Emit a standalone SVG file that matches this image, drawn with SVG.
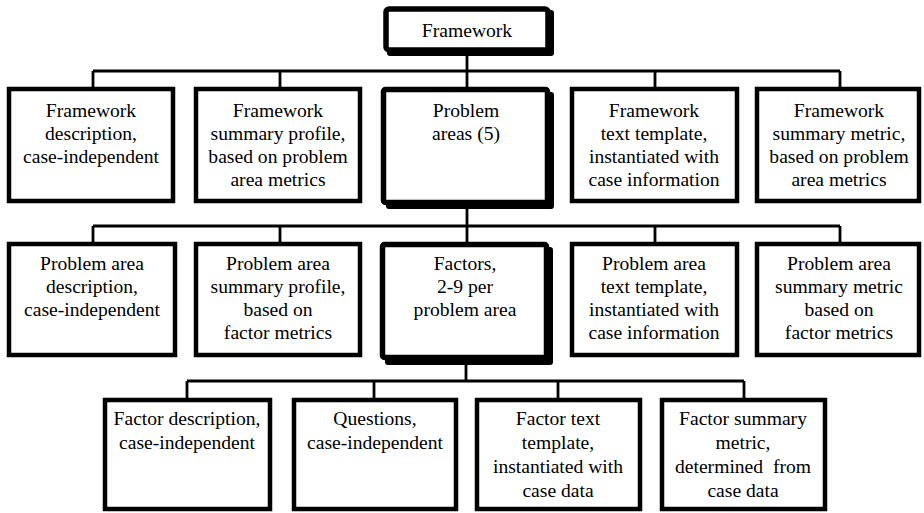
<svg xmlns="http://www.w3.org/2000/svg" width="924" height="513" viewBox="0 0 924 513">
<style>
.bx{fill:#fff;stroke:#000;stroke-width:4.5}
.tk{fill:#fff;stroke:#000;stroke-width:5.5}
.sh{fill:#000}
.ln{stroke:#000;stroke-width:2.8;fill:none}
text{font-family:'Liberation Serif',Tinos,'Times New Roman','DejaVu Serif',serif;font-size:19.6px;fill:#000;text-anchor:middle;white-space:pre}
</style>
<rect width="924" height="513" fill="#fff"/>
<g id="connectors">
<path class="ln" d="M467 56V87M93 71H840M93 71V87M280 71V87M655 71V87M840 71V87"/>
<path class="ln" d="M467 209V242M93 226H840M93 226V242M280 226V242M655 226V242M840 226V242"/>
<path class="ln" d="M466 365V381M187 381H744M187 381V398M374 381V398M558 381V398M744 381V398"/>
</g>
<g id="framework">
<rect class="sh" x="387" y="10" width="167" height="46" rx="3"/>
<rect class="tk" x="386" y="9" width="162" height="41" rx="3"/>
<text x="467" y="37">Framework</text>
</g>
<g id="fw-desc">
<rect class="bx" x="9" y="89" width="164" height="112"/>
<text x="91" y="117">Framework</text><text x="91" y="140">description,</text><text x="91" y="163">case-independent</text>
</g>
<g id="fw-profile">
<rect class="bx" x="196" y="89" width="164" height="112"/>
<text x="278" y="117">Framework</text><text x="278" y="140">summary profile,</text><text x="278" y="163">based on problem</text><text x="278" y="186">area metrics</text>
</g>
<g id="problem-areas">
<rect class="sh" x="386" y="92" width="168" height="117" rx="3"/>
<rect class="tk" x="383.5" y="89.5" width="164" height="113" rx="2"/>
<text x="466" y="117">Problem</text><text x="466" y="140">areas (5)</text>
</g>
<g id="fw-template">
<rect class="bx" x="572" y="89" width="165" height="112"/>
<text x="654" y="117">Framework</text><text x="654" y="140">text template,</text><text x="654" y="163">instantiated with</text><text x="654" y="186">case information</text>
</g>
<g id="fw-metric">
<rect class="bx" x="757" y="89" width="162" height="112"/>
<text x="839" y="117">Framework</text><text x="839" y="140">summary metric,</text><text x="839" y="163">based on problem</text><text x="839" y="186">area metrics</text>
</g>
<g id="pa-desc">
<rect class="bx" x="9" y="244" width="166" height="111"/>
<text x="92" y="270">Problem area</text><text x="92" y="293">description,</text><text x="92" y="316">case-independent</text>
</g>
<g id="pa-profile">
<rect class="bx" x="196" y="244" width="164" height="111"/>
<text x="278" y="270">Problem area</text><text x="278" y="293">summary profile,</text><text x="278" y="316">based on</text><text x="278" y="339">factor metrics</text>
</g>
<g id="factors">
<rect class="sh" x="385" y="247" width="168" height="118" rx="3"/>
<rect class="tk" x="382.5" y="244.5" width="164" height="113" rx="2"/>
<text x="465" y="270">Factors,</text><text x="465" y="293">2-9 per</text><text x="465" y="316">problem area</text>
</g>
<g id="pa-template">
<rect class="bx" x="572" y="244" width="165" height="111"/>
<text x="654" y="270">Problem area</text><text x="654" y="293">text template,</text><text x="654" y="316">instantiated with</text><text x="654" y="339">case information</text>
</g>
<g id="pa-metric">
<rect class="bx" x="757" y="244" width="162" height="111"/>
<text x="839" y="270">Problem area</text><text x="839" y="293">summary metric</text><text x="839" y="316">based on</text><text x="839" y="339">factor metrics</text>
</g>
<g id="f-desc">
<rect class="bx" x="105" y="400" width="165" height="109"/>
<text x="187" y="425">Factor description,</text><text x="187" y="449">case-independent</text>
</g>
<g id="f-questions">
<rect class="bx" x="294" y="400" width="162" height="109"/>
<text x="375" y="425">Questions,</text><text x="375" y="449">case-independent</text>
</g>
<g id="f-template">
<rect class="bx" x="477" y="400" width="163" height="109"/>
<text x="558" y="425">Factor text</text><text x="558" y="449">template,</text><text x="558" y="473">instantiated with</text><text x="558" y="497">case data</text>
</g>
<g id="f-metric">
<rect class="bx" x="662" y="400" width="163" height="109"/>
<text x="743" y="425">Factor summary</text><text x="743" y="449">metric,</text><text x="743" y="473">determined  from</text><text x="743" y="497">case data</text>
</g>
</svg>
